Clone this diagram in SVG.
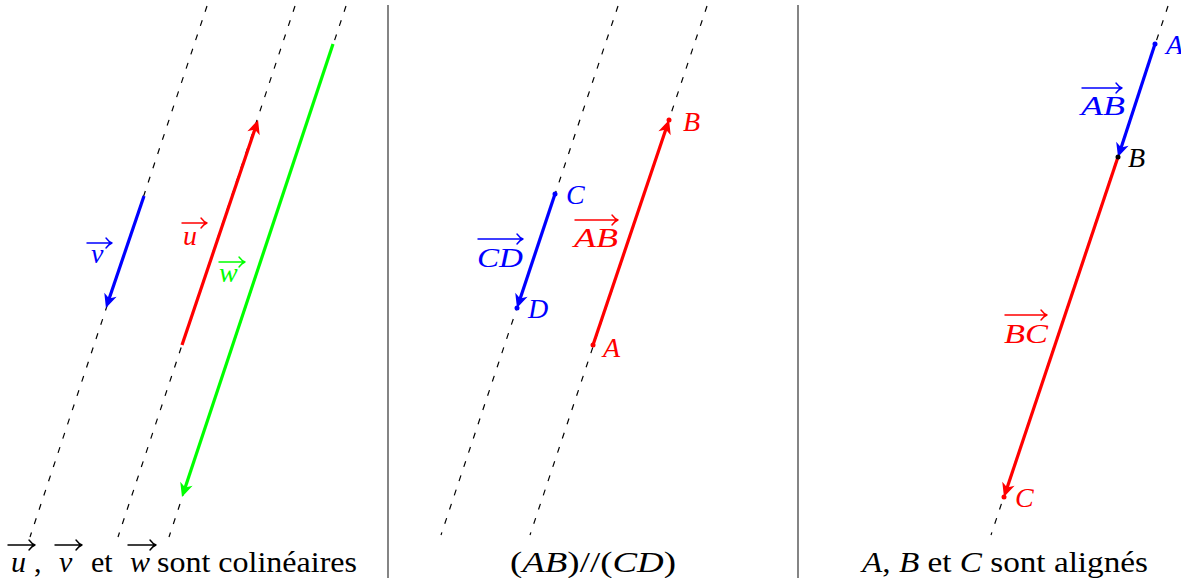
<svg xmlns="http://www.w3.org/2000/svg" width="1181" height="578" viewBox="0 0 1181 578" font-family="'Liberation Serif', 'DejaVu Serif', serif">
<style>
.dash{stroke:#000;stroke-width:1.2;stroke-dasharray:6 9;fill:none}
.sep{stroke:#333;stroke-width:1.2}
.vec{stroke-width:3.2;fill:none;stroke-linecap:butt}
.ov{stroke-width:1.4;fill:none;stroke-linecap:round;stroke-linejoin:round}
.m{font-style:italic;font-size:28px}
.cap{font-size:30px;fill:#000}
.ci{font-style:italic}
.blue{fill:#0000ff;stroke:#0000ff}
.red{fill:#ff0000;stroke:#ff0000}
.green{fill:#00ff00;stroke:#00ff00}
text.blue,text.red,text.green{stroke:none}
</style>
<defs>
<marker id="ab" viewBox="-2 -8 18 16" markerWidth="18" markerHeight="16" refX="7" refY="0" orient="auto" markerUnits="userSpaceOnUse"><path d="M0,-6.5 L14,0 L0,6.5 L4,0 Z" fill="#0000ff"/></marker>
<marker id="ar" viewBox="-2 -8 18 16" markerWidth="18" markerHeight="16" refX="7" refY="0" orient="auto" markerUnits="userSpaceOnUse"><path d="M0,-6.5 L14,0 L0,6.5 L4,0 Z" fill="#ff0000"/></marker>
<marker id="ag" viewBox="-2 -8 18 16" markerWidth="18" markerHeight="16" refX="7" refY="0" orient="auto" markerUnits="userSpaceOnUse"><path d="M0,-6.5 L14,0 L0,6.5 L4,0 Z" fill="#00ff00"/></marker>
</defs>
<rect width="1181" height="578" fill="#fff"/>

<g id="separators">
<line class="sep" x1="388" y1="5" x2="388" y2="578"/>
<line class="sep" x1="798" y1="5" x2="798" y2="578"/>
</g>

<g id="guides">
<line class="dash" x1="207" y1="6" x2="30" y2="537"/>
<line class="dash" x1="295" y1="6" x2="118" y2="537"/>
<line class="dash" x1="346" y1="6" x2="169" y2="537"/>
<line class="dash" x1="618" y1="6" x2="441" y2="535"/>
<line class="dash" x1="707" y1="6" x2="530" y2="535"/>
<line class="dash" x1="1168" y1="6" x2="991" y2="535"/>
</g>

<g id="connectors">
<line class="vec" stroke="#0000ff" x1="144" y1="196" x2="108.2" y2="301.4" marker-end="url(#ab)"/>
<line class="vec" stroke="#ff0000" x1="182" y1="345" x2="255.8" y2="126.6" marker-end="url(#ar)"/>
<line class="vec" stroke="#00ff00" x1="333" y1="44" x2="184.2" y2="490.4" marker-end="url(#ag)"/>
<line class="vec" stroke="#0000ff" x1="555" y1="194" x2="519.2" y2="301.4" marker-end="url(#ab)"/>
<line class="vec" stroke="#ff0000" x1="593" y1="345" x2="666.8" y2="126.6" marker-end="url(#ar)"/>
<line class="vec" stroke="#ff0000" x1="1118" y1="157" x2="1006.2" y2="490.4" marker-end="url(#ar)"/>
<line class="vec" stroke="#0000ff" x1="1155" y1="44" x2="1120.2" y2="150.4" marker-end="url(#ab)"/>
</g>

<g id="label-v">
<path class="ov blue" style="fill:none" d="M87,243 H112 M106,238 Q109,242 112,243 Q109,244 106,248"/>
<text class="m blue" x="91" y="263">v</text>
</g>
<g id="label-u">
<path class="ov red" style="fill:none" d="M182,223 H207 M201,218 Q204,222 207,223 Q204,224 201,228"/>
<text class="m red" x="183" y="245">u</text>
</g>
<g id="label-w">
<path class="ov green" style="fill:none" d="M219,262 H245 M239,257 Q242,261 245,262 Q242,263 239,267"/>
<text class="m green" x="219" y="282">w</text>
</g>

<g id="point-C2">
<circle cx="555" cy="194" r="2.5" fill="#0000ff"/>
<text class="m blue" x="566" y="204">C</text>
</g>
<g id="point-D2">
<circle cx="517" cy="308" r="2.5" fill="#0000ff"/>
<text class="m blue" x="528" y="318">D</text>
</g>
<g id="point-A2">
<circle cx="593" cy="345" r="2.5" fill="#ff0000"/>
<text class="m red" x="603" y="357">A</text>
</g>
<g id="point-B2">
<circle cx="669" cy="120" r="2.5" fill="#ff0000"/>
<text class="m red" x="683" y="131">B</text>
</g>
<g id="label-CD">
<path class="ov blue" style="fill:none" d="M478,239 H523 M517,234 Q520,238 523,239 Q520,240 517,244"/>
<text class="m blue" x="477" y="267" textLength="46" lengthAdjust="spacingAndGlyphs">CD</text>
</g>
<g id="label-AB2">
<path class="ov red" style="fill:none" d="M575,220 H618 M612,215 Q615,219 618,220 Q615,221 612,225"/>
<text class="m red" x="574" y="247" textLength="44" lengthAdjust="spacingAndGlyphs">AB</text>
</g>

<g id="point-A3">
<circle cx="1155" cy="44" r="2.5" fill="#0000ff"/>
<text class="m blue" x="1166" y="54">A</text>
</g>
<g id="point-B3">
<circle cx="1118" cy="157" r="2.5" fill="#000"/>
<text class="m" x="1128" y="167" fill="#000">B</text>
</g>
<g id="point-C3">
<circle cx="1004" cy="497" r="2.5" fill="#ff0000"/>
<text class="m red" x="1015" y="507">C</text>
</g>
<g id="label-AB3">
<path class="ov blue" style="fill:none" d="M1082,88 H1122 M1116,83 Q1119,87 1122,88 Q1119,89 1116,93"/>
<text class="m blue" x="1081" y="115" textLength="44" lengthAdjust="spacingAndGlyphs">AB</text>
</g>
<g id="label-BC">
<path class="ov red" style="fill:none" d="M1005,315 H1047 M1041,310 Q1044,314 1047,315 Q1044,316 1041,320"/>
<text class="m red" x="1004" y="343" textLength="44" lengthAdjust="spacingAndGlyphs">BC</text>
</g>

<g id="caption-1">
<path class="ov" stroke="#000" d="M8,545 H35 M29,540 Q32,544 35,545 Q32,546 29,550 M55,545 H82 M76,540 Q79,544 82,545 Q79,546 76,550 M128,545 H156 M150,540 Q153,544 156,545 Q153,546 150,550"/>
<text class="cap ci" x="11" y="572">u</text>
<text class="cap" x="34" y="572">,</text>
<text class="cap ci" x="59" y="572">v</text>
<text class="cap" x="91" y="572">et</text>
<text class="cap ci" x="130" y="572">w</text>
<text class="cap" x="157" y="572" textLength="200" lengthAdjust="spacingAndGlyphs">sont colinéaires</text>
</g>
<g id="caption-2">
<text class="cap" x="510" y="572" textLength="166" lengthAdjust="spacingAndGlyphs">(<tspan class="ci">AB</tspan>)//(<tspan class="ci">CD</tspan>)</text>
</g>
<g id="caption-3">
<text class="cap" x="862" y="572" textLength="286" lengthAdjust="spacingAndGlyphs"><tspan class="ci">A</tspan>, <tspan class="ci">B</tspan> et <tspan class="ci">C</tspan> sont alignés</text>
</g>
</svg>
